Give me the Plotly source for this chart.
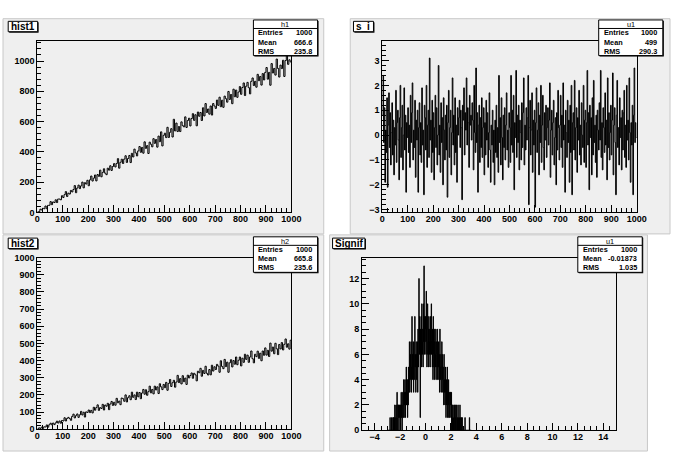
import numpy as np
import plotly.graph_objects as go

W, H = 680, 458


def px(x):
    return x / W


def py(y):
    return 1 - y / H


# ---------------- data ----------------
hist_xmin, hist_xmax = 0, 1000

h1_values = [
    3, 5, 21, 16, 27, 24, 42, 24, 46, 47,
    71, 51, 69, 65, 83, 65, 88, 88, 83, 110,
    98, 117, 137, 105, 127, 121, 145, 135, 151, 177,
    130, 161, 180, 157, 175, 200, 162, 196, 187, 212,
    176, 215, 240, 207, 226, 247, 208, 250, 238, 279,
    235, 264, 288, 259, 249, 292, 279, 308, 277, 303,
    322, 300, 323, 355, 292, 331, 351, 323, 352, 374,
    330, 356, 376, 329, 390, 366, 418, 393, 373, 406,
    435, 397, 429, 391, 466, 423, 441, 389, 464, 450,
    433, 487, 456, 481, 431, 504, 467, 532, 439, 509,
    523, 494, 562, 495, 529, 553, 498, 615, 538, 590,
    534, 567, 534, 598, 573, 565, 631, 561, 607, 622,
    571, 620, 652, 608, 645, 572, 663, 635, 660, 607,
    691, 637, 719, 660, 683, 649, 703, 643, 719, 703,
    687, 742, 707, 761, 698, 741, 694, 768, 751, 728,
    799, 746, 779, 718, 814, 764, 808, 760, 795, 831,
    780, 825, 855, 772, 834, 859, 824, 783, 866, 888,
    838, 866, 827, 912, 870, 898, 841, 917, 875, 925,
    957, 880, 925, 840, 983, 921, 951, 907, 1013, 951,
    894, 973, 950, 1005, 898, 1003, 1077, 978, 1008, 994,
]

h2_values = [
    2, 8, 5, 12, 5, 14, 13, 25, 12, 26,
    35, 26, 36, 27, 37, 47, 36, 48, 35, 51,
    48, 67, 48, 63, 69, 62, 52, 75, 88, 66,
    79, 89, 69, 84, 104, 83, 99, 71, 101, 98,
    112, 97, 110, 95, 128, 111, 126, 142, 110, 126,
    121, 145, 112, 141, 134, 151, 114, 147, 162, 139,
    157, 140, 180, 154, 164, 143, 182, 178, 163, 200,
    159, 184, 195, 172, 216, 186, 200, 173, 216, 189,
    214, 178, 211, 232, 204, 230, 198, 219, 251, 212,
    232, 206, 251, 229, 247, 208, 265, 247, 231, 261,
    242, 273, 227, 267, 290, 249, 271, 285, 245, 275,
    314, 272, 295, 264, 312, 277, 298, 261, 315, 299,
    313, 328, 297, 326, 317, 282, 338, 329, 355, 309,
    343, 325, 367, 326, 316, 348, 317, 373, 339, 364,
    348, 378, 368, 332, 399, 366, 353, 407, 365, 391,
    332, 387, 405, 363, 400, 379, 421, 376, 402, 421,
    369, 414, 390, 437, 407, 432, 390, 421, 456, 411,
    387, 437, 423, 455, 413, 443, 399, 456, 431, 474,
    432, 460, 424, 502, 455, 479, 440, 501, 469, 435,
    494, 468, 505, 462, 495, 526, 478, 498, 467, 519,
]

si_values = [
    0.8, 2.4, -0.3, 1.1, -1.9, 0.2, -0.7, 1.5, -2.1, 0.4, 1.7, -0.5, 0.9, -1.2, 0.1, 1.3, -0.8, 0.6, -1.6, 0.3,
    -0.4, 1.8, -1.1, 0.5, 1.0, -0.2, -1.8, 0.7, 2.0, -0.9, 0.3, 1.2, -1.4, 0.0, 1.9, -0.6, 0.8, -2.3, 0.5, -0.1,
    1.1, -0.7, 0.4, -1.3, 1.6, -0.3, 0.9, 2.1, -1.0, 0.2, -0.5, 1.4, -1.7, 0.6, -0.2, 1.0, -2.3, 0.3, 1.3, -0.8,
    0.5, -1.1, 1.9, -0.4, 0.2, -2.4, 1.2, 0.7, -0.6, 2.0, -1.3, 0.4, 1.0, -0.9, 3.1, -0.2, 0.6, -1.5, 1.4, -0.7,
    0.9, -1.8, 0.3, 1.6, -0.5, 1.1, -1.2, 0.0, 2.8, -0.8, 0.4, -1.5, 1.3, -0.3, 0.7, -2.0, 1.5, 0.2, -1.0, 0.8,
    -0.6, 1.2, -2.5, 0.5, 1.8, -0.9, 0.3, 1.0, -1.6, 0.1, 2.3, -0.4, 0.8, -1.2, 1.5, -0.7, 0.4, -1.9, 1.1, 0.0,
    0.7, 1.4, -0.5, 1.0, 0.3, -2.6, 1.2, 0.6, 1.9, -0.8, 0.9, 0.2, 2.3, -0.4, 1.1, 0.5, -1.3, 1.6, 0.4, 0.8,
    -0.2, 1.3, 0.6, -1.4, 2.0, 0.1, -0.7, 2.7, -0.3, 0.9, -2.3, 0.4, 1.2, -1.1, 0.7, -0.5, 1.5, -0.9, 0.3, 1.1,
    -1.6, 0.5, -0.8, 1.4, -0.2, 0.9, -1.3, 0.1, 1.7, -0.6, -1.9, 0.4, -0.4, 1.0, -1.1, 0.2, -2.0, 0.6, -0.7, 1.2,
    -0.9, 0.3, -1.5, 2.4, -0.3, 0.7, -1.2, 1.5, -0.1, -1.8, 0.8, -0.5, 1.1, -1.0, 0.4, 1.7, -0.6, 0.2, -1.3, 0.9,
    0.3, -1.1, 2.4, -0.4, 1.0, -0.7, 1.6, -2.2, 0.5, -0.1, 2.6, -0.9, 0.8, -0.3, 1.2, -1.4, 0.6, 0.1, -1.0, 1.3,
    -0.5, 0.9, 2.3, -1.2, 0.4, -0.6, 1.1, -0.2, 0.7, 2.4, -2.8, 0.3, 1.4, -0.8, 0.2, 1.7, -1.5, 0.6, -0.4, 1.0,
    -2.9, 0.5, 1.9, -0.7, 0.2, 1.3, -1.6, 0.8, -0.3, 2.0, -1.1, 0.4, 1.6, -0.5, -1.4, 0.9, -0.2, 1.2, -0.9, 0.3,
    1.1, -0.4, 0.6, 2.1, -1.7, 0.2, 1.0, -0.8, 0.5, 1.4, -1.2, -0.1, 0.7, -2.0, 0.9, -0.6, 1.8, 0.3, -1.0, 0.4,
    1.6, -0.5, 0.8, -1.3, 2.1, -0.2, 0.4, -2.3, 1.0, 0.1, -0.9, 1.4, -0.3, 0.6, -1.9, 1.2, -0.7, 2.0, -2.4, 0.5,
    0.9, -0.6, 2.2, -1.0, 0.3, 1.1, -1.5, 0.7, -0.2, 1.8, -0.8, 0.4, -1.2, 1.3, 0.0, -0.5, 2.0, -1.1, 0.6, 1.0,
    -1.3, 0.5, 2.6, -0.4, 0.9, -2.2, 1.2, -0.1, 0.7, -1.6, 1.5, -0.8, 2.2, -0.3, 0.4, -1.1, 0.8, -1.7, 1.0, 0.2,
    -0.6, 1.3, -0.2, 2.6, -0.9, 0.5, -1.4, 1.1, 0.3, -0.7, 1.7, -0.4, 0.6, -1.8, 2.3, -0.5, 0.9, -1.0, 0.1, 1.2,
    -0.8, 0.6, 2.5, -1.6, 0.4, 1.1, -0.3, -2.4, 0.8, 2.2, -0.5, 0.3, -1.2, 1.5, -0.1, 0.7, -1.4, 1.0, -0.6, 0.9,
    1.8, -0.9, 0.4, -1.3, 2.0, -0.2, 0.6, -1.0, 2.3, 0.1, -1.9, 0.5, -0.4, 1.2, -2.4, 0.8, 2.7, -0.3, 0.5, -0.1,
]

signif_first_edge = -3.0
signif_bin_width = 0.025
signif_counts = [
    0, 0, 0, 0, 0, 0, 0, 0, 1, 0, 0, 0, 0, 1, 0, 0, 0, 1, 0, 1,
    0, 1, 0, 2, 1, 0, 1, 2, 0, 1, 3, 1, 0, 2, 1, 2, 0, 1, 2, 1,
    2, 0, 1, 3, 1, 2, 0, 2, 3, 1, 2, 4, 1, 3, 2, 4, 1, 3, 2, 5,
    2, 4, 3, 1, 4, 2, 5, 3, 4, 7, 3, 5, 6, 4, 7, 3, 5, 9, 4, 6,
    5, 7, 3, 6, 4, 7, 9, 5, 6, 3, 7, 4, 6, 5, 7, 3, 8, 5, 6, 12,
    6, 9, 7, 1, 8, 6, 9, 5, 10, 7, 6, 8, 5, 10, 7, 13, 6, 9, 7, 8,
    9, 6, 11, 7, 5, 8, 10, 6, 8, 5, 9, 7, 6, 8, 5, 9, 6, 7, 10, 6,
    7, 5, 8, 4, 9, 6, 5, 8, 4, 7, 6, 5, 8, 4, 6, 7, 5, 8, 4, 6,
    5, 7, 4, 6, 3, 8, 5, 4, 6, 3, 5, 7, 4, 6, 3, 5, 4, 2, 6, 3,
    4, 2, 5, 3, 1, 4, 2, 3, 5, 1, 3, 2, 4, 1, 3, 2, 1, 3, 2, 3,
    1, 3, 0, 2, 1, 0, 2, 1, 0, 1, 2, 0, 1, 2, 0, 1, 0, 2, 1, 0,
    1, 0, 2, 1, 0, 1, 0, 1, 2, 0, 1, 0, 0, 1, 0, 1, 0, 0, 0, 0,
    0, 0, 0, 0, 1, 0, 0, 0, 0, 0, 0, 0, 0, 0, 0, 0, 0, 0, 1, 0,
    0, 0, 0, 0,
]

pad_titles = ["hist1", "s_i", "hist2", "Signif"]
stat_names = ["h1", "u1", "h2", "u1"]
stat_entries = ["1000", "1000", "1000", "1000"]
stat_means = ["666.6", "499", "665.8", "-0.01873"]
stat_rms = ["235.8", "290.3", "235.6", "1.035"]
stat_labels = ["Entries", "Mean", "RMS"]

# ---------------- figure ----------------
FONT = "Liberation Sans"
PAD_COLOR = "#efefef"


def steps(edges, vals):
    vals = list(vals)
    return list(edges), vals + [vals[-1]]


fig = go.Figure()

series = [
    (np.linspace(hist_xmin, hist_xmax, len(h1_values) + 1), h1_values, "x", "y"),
    (np.linspace(hist_xmin, hist_xmax, len(si_values) + 1), si_values, "x2", "y2"),
    (np.linspace(hist_xmin, hist_xmax, len(h2_values) + 1), h2_values, "x3", "y3"),
    (signif_first_edge + signif_bin_width * np.arange(len(signif_counts) + 1), signif_counts, "x4", "y4"),
]
for edges, vals, xa, ya in series:
    x, y = steps(edges, vals)
    fig.add_trace(go.Scatter(x=x, y=y, mode="lines", line=dict(color="black", width=1, shape="hv"),
                             xaxis=xa, yaxis=ya, showlegend=False, hoverinfo="skip"))


def axis(dom, rng, dtick, minor_dtick, anchor, is_x):
    d = dict(
        domain=dom, range=rng, dtick=dtick, tick0=0, ticks="inside", ticklen=7,
        tickwidth=1, tickcolor="black", showline=True, linecolor="black", linewidth=1,
        mirror=True, showgrid=False, zeroline=False, anchor=anchor,
        tickfont=dict(family=FONT, size=9, color="black", weight="bold"),
        minor=dict(dtick=minor_dtick, ticklen=4, ticks="inside", tickcolor="black",
                   tickwidth=1, showgrid=False),
    )
    if is_x:
        d["ticklabelstandoff"] = -2
    return d


frames = {
    1: (35, 37, 294, 212),
    2: (386.7, 36.7, 646, 212),
    3: (35, 258.3, 294, 433.7),
    4: (366, 258.3, 625, 434.7),
}


def xdom(k):
    l, t, r, b = frames[k]
    return [px(l), px(r)]


def ydom(k):
    l, t, r, b = frames[k]
    return [py(b), py(t)]


fig.update_layout(
    width=W, height=H, margin=dict(l=0, r=0, t=0, b=0),
    paper_bgcolor="white", plot_bgcolor="rgba(0,0,0,0)", showlegend=False,
    xaxis=axis(xdom(1), [0, 1000], 100, 20, "y", True),
    yaxis=axis(ydom(1), [0, 1131], 200, 40, "x", False),
    xaxis2=axis(xdom(2), [0, 1000], 100, 20, "y2", True),
    yaxis2=axis(ydom(2), [-3.11, 3.79], 1, 0.2, "x2", False),
    xaxis3=axis(xdom(3), [0, 1000], 100, 20, "y3", True),
    yaxis3=axis(ydom(3), [0, 1000], 100, 20, "x3", False),
    xaxis4=axis(xdom(4), [-5, 15], 2, 0.5, "y4", True),
    yaxis4=axis(ydom(4), [0, 13.65], 2, 0.5, "x4", False),
)

shapes = []
annotations = []

pads = [(0, 14, 327, 234), (354, 14, 680, 234), (0, 235, 327, 456), (333, 235, 657, 456)]
for (l, t, r, b) in pads:
    shapes.append(dict(type="rect", xref="paper", yref="paper", x0=px(l), x1=px(r), y0=py(b), y1=py(t),
                       fillcolor=PAD_COLOR, line=dict(color="#c8c8c8", width=1), layer="below"))


def box(l, t, r, b):
    shapes.append(dict(type="rect", xref="paper", yref="paper", x0=px(l + 1), x1=px(r + 1),
                       y0=py(b + 1), y1=py(t + 1), fillcolor="black", line=dict(width=0), layer="above"))
    shapes.append(dict(type="rect", xref="paper", yref="paper", x0=px(l), x1=px(r), y0=py(b), y1=py(t),
                       fillcolor="white", line=dict(color="black", width=1), layer="above"))


title_boxes = [(5.3, 16.7, 35.3, 27.3), (357.3, 16.7, 377.7, 27.3), (5.3, 238.3, 35.3, 249), (336, 238.3, 369, 249)]
for (l, t, r, b), txt in zip(title_boxes, pad_titles):
    box(l, t, r, b)
    annotations.append(dict(xref="paper", yref="paper", x=px((l + r) / 2), y=py((t + b) / 2),
                            text=txt, showarrow=False, xanchor="center", yanchor="middle",
                            font=dict(family=FONT, size=10, color="black", weight="bold")))

stat_boxes = [(255.3, 15.3, 320.7, 51.7), (607.3, 15.3, 672.7, 51.7), (255.3, 237, 320.7, 273.3), (586, 237, 651.7, 273.3)]
for i, (l, t, r, b) in enumerate(stat_boxes):
    box(l, t, r, b)
    hdr = t + 8.7
    shapes.append(dict(type="line", xref="paper", yref="paper", x0=px(l), x1=px(r), y0=py(hdr), y1=py(hdr),
                       line=dict(color="black", width=1), layer="above"))
    sf = dict(family=FONT, size=7.3, color="black", weight="bold")
    annotations.append(dict(xref="paper", yref="paper", x=px((l + r) / 2), y=py((t + hdr) / 2),
                            text=stat_names[i], showarrow=False, xanchor="center", yanchor="middle",
                            font=dict(family=FONT, size=7.3, color="black")))
    row_h = (b - hdr) / 3
    vals = [stat_entries[i], stat_means[i], stat_rms[i]]
    for j in range(3):
        yc = hdr + row_h * (j + 0.5)
        annotations.append(dict(xref="paper", yref="paper", x=px(l + 3), y=py(yc), text=stat_labels[j],
                                showarrow=False, xanchor="left", yanchor="middle", font=sf))
        annotations.append(dict(xref="paper", yref="paper", x=px(r - 3.5), y=py(yc), text=vals[j],
                                showarrow=False, xanchor="right", yanchor="middle", font=sf))

fig.update_layout(shapes=shapes, annotations=annotations)
fig.write_html("out.html")
